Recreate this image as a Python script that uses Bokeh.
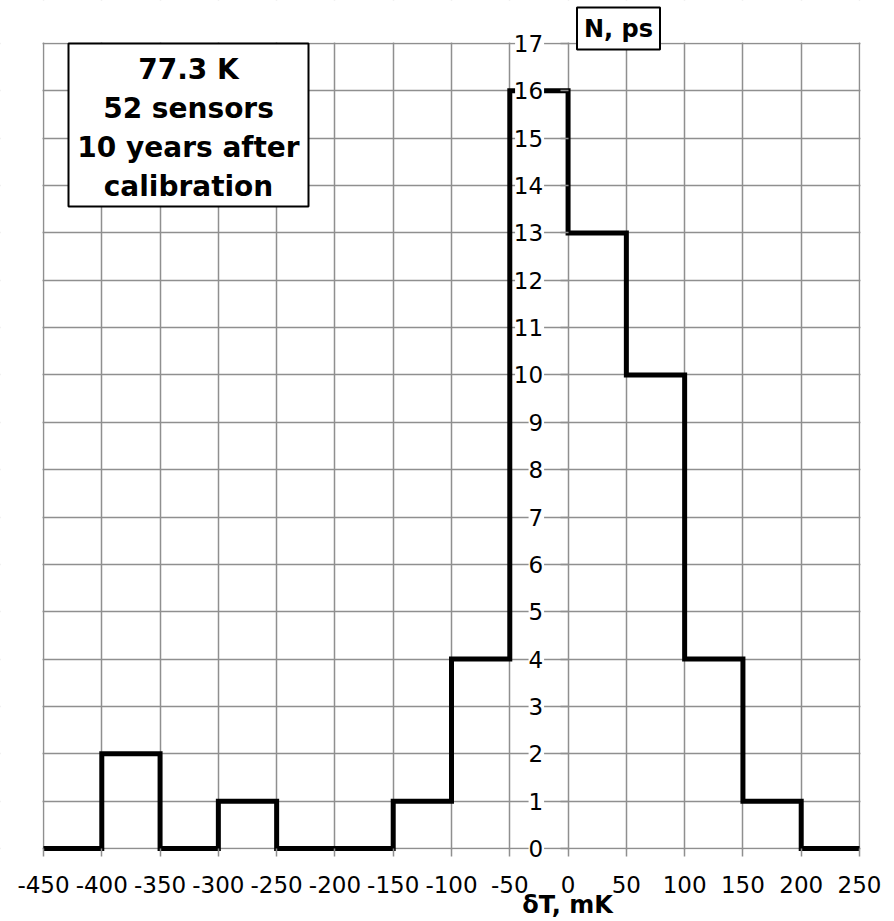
from bokeh.plotting import figure
from bokeh.models import Range1d, FixedTicker, BoxAnnotation, Label
from bokeh.embed import file_html
from bokeh.resources import INLINE

# ---- data ----
bin_edges = [-450, -400, -350, -300, -250, -200, -150, -100, -50, 0, 50, 100, 150, 200, 250]
counts = [0, 2, 0, 1, 0, 0, 1, 4, 16, 13, 10, 4, 1, 0]
x_ticks = list(range(-450, 251, 50))
y_ticks = list(range(0, 18))
info_lines = ["77.3 K", "52 sensors", "10 years after", "calibration"]
y_title = "N, ps"
x_title = "δT, mK"

GRID = "#8f8f8f"
FONT = "DejaVu Sans"
TICK_FS = 23

XMIN, XMAX = x_ticks[0], x_ticks[-1]
YMIN, YMAX = y_ticks[0], y_ticks[-1]

W, H = 890, 918
# plot area (grid) placement in pixels inside the figure
GL, GR, GT, GB = 43, 859, 43, 848
sx = (GR - GL) / (XMAX - XMIN)
sy = (GB - GT) / (YMAX - YMIN)

p = figure(width=W, height=H,
           x_range=Range1d(XMIN - GL / sx, XMAX + (W - GR) / sx),
           y_range=Range1d(YMIN - (H - GB) / sy, YMAX + GT / sy),
           output_backend="svg", toolbar_location=None,
           min_border=0, min_border_left=0, min_border_right=0,
           min_border_top=0, min_border_bottom=0,
           background_fill_color="white", border_fill_color="white")
p.outline_line_color = None
p.title.visible = False

xt = FixedTicker(ticks=x_ticks)
yt = FixedTicker(ticks=y_ticks)
p.xaxis.ticker = xt
p.xgrid.ticker = xt
p.yaxis.ticker = yt
p.ygrid.ticker = yt
for g in (p.xgrid, p.ygrid):
    g.grid_line_color = GRID
    g.grid_line_width = 1.5
    g.grid_line_alpha = 1

# white covers so the grid ends exactly at the outer ticks
ex = 1.0 / sx
ey = 1.0 / sy
BIG = 1e4
for kw in (dict(left=-BIG, right=BIG, bottom=YMAX + ey, top=BIG),
           dict(left=-BIG, right=BIG, bottom=-BIG, top=YMIN - ey),
           dict(left=-BIG, right=XMIN - ex, bottom=-BIG, top=BIG),
           dict(left=XMAX + ex, right=BIG, bottom=-BIG, top=BIG)):
    p.add_layout(BoxAnnotation(fill_color="white", fill_alpha=1, line_color=None,
                               level="underlay", **kw))

xa = p.xaxis[0]
xa.fixed_location = 0
xa.axis_line_color = None
xa.major_tick_line_color = GRID
xa.major_tick_line_width = 1.5
xa.major_tick_out = 8
xa.major_tick_in = 0
xa.minor_tick_line_color = None
xa.major_label_standoff = 19
xa.major_label_text_font = FONT
xa.major_label_text_font_size = f"{TICK_FS}px"
xa.major_label_text_color = "black"
xa.major_label_overrides = {t: str(t) for t in x_ticks}

ya = p.yaxis[0]
ya.fixed_location = 0
ya.axis_line_color = None
ya.major_tick_line_color = GRID
ya.major_tick_line_width = 1.5
ya.major_tick_out = 8
ya.major_tick_in = 0
ya.minor_tick_line_color = None
ya.major_label_standoff = 17
ya.major_label_text_font = FONT
ya.major_label_text_font_size = f"{TICK_FS}px"
ya.major_label_text_color = "black"

p.step(bin_edges, counts + [counts[-1]], mode="after",
       line_color="black", line_width=5, line_join="miter")

# white backgrounds behind the y tick labels (drawn above the step line, below the axis)
lab_right_px = GL + (0 - XMIN) * sx - 8 - 17   # right edge of labels
bg_w = [13.5 * len(str(t)) + 2 for t in y_ticks]
bg_x = [XMIN + (lab_right_px - w / 2 + 1 - GL) / sx for w in bg_w]
p.rect(x=bg_x, y=y_ticks, width=bg_w, height=[22] * len(y_ticks),
       width_units="screen", height_units="screen",
       fill_color="white", line_color=None)

def px2x(px):
    return XMIN + (px - GL) / sx

def py2y(py):
    return YMIN + (GB - py) / sy

box = BoxAnnotation(left=px2x(68), right=px2x(308), top=YMAX, bottom=py2y(206),
                    fill_color="white", fill_alpha=1,
                    line_color="black", line_width=2, line_alpha=1)
p.add_layout(box)

for txt, py in zip(info_lines, [69, 108, 147, 186]):
    p.add_layout(Label(x=px2x(188), y=py2y(py), text=txt, text_align="center",
                       text_baseline="middle", text_font=FONT,
                       text_font_style="bold", text_font_size="28px",
                       text_color="black"))

lab = Label(x=px2x(618), y=py2y(28), text=y_title, text_align="center",
            text_baseline="middle", text_font=FONT, text_font_style="bold",
            text_font_size="24px", text_color="black",
            background_fill_color="white", background_fill_alpha=1,
            border_line_color="black", border_line_width=2)
if hasattr(lab, "padding"):
    lab.padding = 7
p.add_layout(lab)

p.add_layout(Label(x=px2x(567), y=py2y(904), text=x_title, text_align="center",
                   text_baseline="middle", text_font=FONT, text_font_style="bold",
                   text_font_size="24px", text_color="black"))

open("out.html", "w").write(file_html(p, INLINE))
